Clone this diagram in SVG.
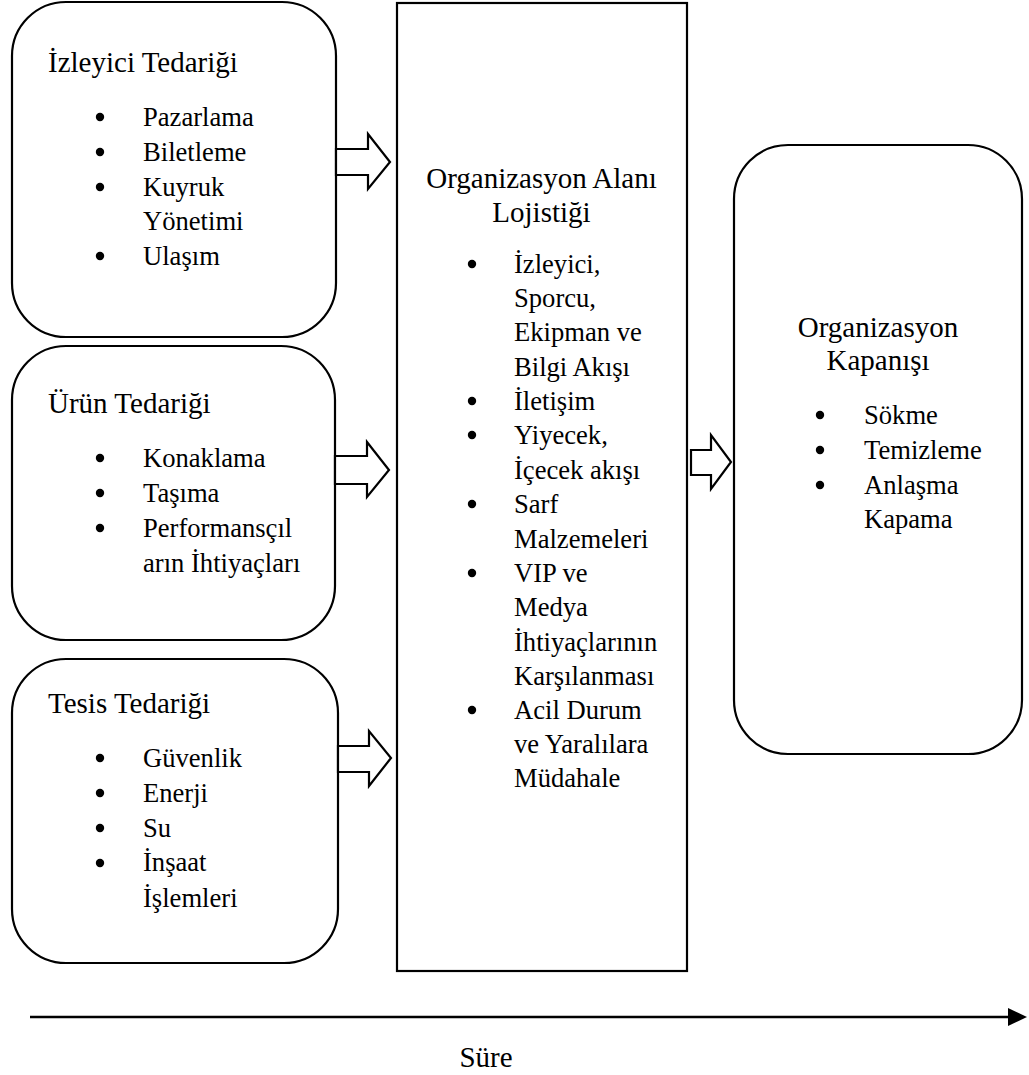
<svg xmlns="http://www.w3.org/2000/svg" width="1029" height="1075" viewBox="0 0 1029 1075">
<style>
.box{fill:#fff;stroke:#000;stroke-width:2.2}
.arr{fill:#fff;stroke:#000;stroke-width:2.2;stroke-linejoin:miter}
.t{font-family:'Liberation Serif','Times New Roman',serif;font-size:29px;fill:#000}
.i{font-family:'Liberation Serif','Times New Roman',serif;font-size:26.6px;fill:#000}
.c{text-anchor:middle}
.b{fill:#000}
</style>
<rect width="1029" height="1075" fill="#fff"/>
<g id="izleyici">
<rect class="box" x="12" y="2" width="324" height="335" rx="54" ry="54"/>
<text class="t" x="48" y="72">İzleyici Tedariği</text>
<circle class="b" cx="100" cy="117" r="4.2"/><text class="i" x="143" y="126">Pazarlama</text>
<circle class="b" cx="100" cy="152" r="4.2"/><text class="i" x="143" y="161">Biletleme</text>
<circle class="b" cx="100" cy="187" r="4.2"/><text class="i" x="143" y="196">Kuyruk</text>
<text class="i" x="143" y="230">Yönetimi</text>
<circle class="b" cx="100" cy="256" r="4.2"/><text class="i" x="143" y="265">Ulaşım</text>
</g>
<g id="urun">
<rect class="box" x="12" y="346" width="323" height="294" rx="54" ry="54"/>
<text class="t" x="48" y="413">Ürün Tedariği</text>
<circle class="b" cx="100" cy="458" r="4.2"/><text class="i" x="143" y="467">Konaklama</text>
<circle class="b" cx="100" cy="493" r="4.2"/><text class="i" x="143" y="502">Taşıma</text>
<circle class="b" cx="100" cy="528" r="4.2"/><text class="i" x="143" y="537">Performansçıl</text>
<text class="i" x="143" y="572">arın İhtiyaçları</text>
</g>
<g id="tesis">
<rect class="box" x="12" y="659" width="326" height="304" rx="54" ry="54"/>
<text class="t" x="48" y="713">Tesis Tedariği</text>
<circle class="b" cx="100" cy="758" r="4.2"/><text class="i" x="143" y="767">Güvenlik</text>
<circle class="b" cx="100" cy="793" r="4.2"/><text class="i" x="143" y="802">Enerji</text>
<circle class="b" cx="100" cy="828" r="4.2"/><text class="i" x="143" y="837">Su</text>
<circle class="b" cx="100" cy="863" r="4.2"/><text class="i" x="143" y="871">İnşaat</text>
<text class="i" x="143" y="907">İşlemleri</text>
</g>
<g id="alan">
<rect class="box" x="397" y="3" width="290" height="968"/>
<text class="t c" x="541.5" y="188">Organizasyon Alanı</text>
<text class="t c" x="541.5" y="222">Lojistiği</text>
<circle class="b" cx="472" cy="264" r="4.2"/><text class="i" x="514" y="273">İzleyici,</text>
<text class="i" x="514" y="307">Sporcu,</text>
<text class="i" x="514" y="341">Ekipman ve</text>
<text class="i" x="514" y="376">Bilgi Akışı</text>
<circle class="b" cx="472" cy="401" r="4.2"/><text class="i" x="514" y="410">İletişim</text>
<circle class="b" cx="472" cy="435" r="4.2"/><text class="i" x="514" y="444">Yiyecek,</text>
<text class="i" x="514" y="479">İçecek akışı</text>
<circle class="b" cx="472" cy="504" r="4.2"/><text class="i" x="514" y="513">Sarf</text>
<text class="i" x="514" y="548">Malzemeleri</text>
<circle class="b" cx="472" cy="573" r="4.2"/><text class="i" x="514" y="582">VIP ve</text>
<text class="i" x="514" y="616">Medya</text>
<text class="i" x="514" y="651">İhtiyaçlarının</text>
<text class="i" x="514" y="685">Karşılanması</text>
<circle class="b" cx="472" cy="710" r="4.2"/><text class="i" x="514" y="719">Acil Durum</text>
<text class="i" x="514" y="753">ve Yaralılara</text>
<text class="i" x="514" y="787">Müdahale</text>
</g>
<g id="kapanis">
<rect class="box" x="734" y="145" width="288" height="609" rx="54" ry="54"/>
<text class="t c" x="878" y="337">Organizasyon</text>
<text class="t c" x="878" y="370">Kapanışı</text>
<circle class="b" cx="820" cy="415" r="4.2"/><text class="i" x="864" y="424">Sökme</text>
<circle class="b" cx="820" cy="450" r="4.2"/><text class="i" x="864" y="459">Temizleme</text>
<circle class="b" cx="820" cy="485" r="4.2"/><text class="i" x="864" y="494">Anlaşma</text>
<text class="i" x="864" y="528">Kapama</text>
</g>
<g id="connectors">
<polygon class="arr" points="336,149 368,149 368,134 390,162 368,189 368,175 336,175"/>
<polygon class="arr" points="335,456 367,456 367,442 389,470 367,497 367,484 335,484"/>
<polygon class="arr" points="338,746 369,746 369,731 391,758 369,786 369,772 338,772"/>
<polygon class="arr" points="691,450 711,450 711,435 731,462 711,489 711,475 691,475"/>
<line x1="30" y1="1017" x2="1010" y2="1017" stroke="#000" stroke-width="2.5"/>
<polygon points="1008,1008 1027,1017 1008,1026" fill="#000"/>
</g>
<text class="t c" x="486" y="1067">Süre</text>
</svg>
